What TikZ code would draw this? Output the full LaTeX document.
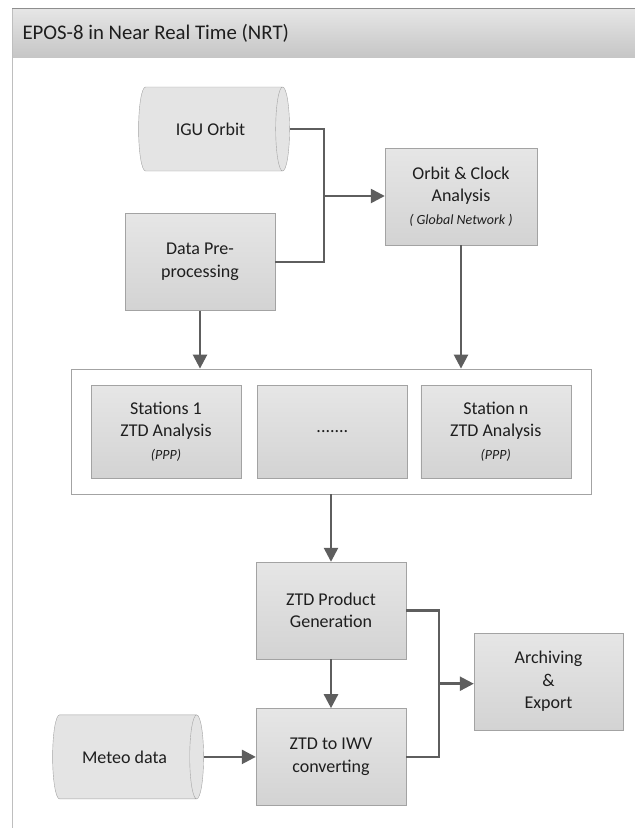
\documentclass[tikz,border=0pt]{standalone}
\usepackage{fontspec}
\setmainfont{Carlito}
\usepackage{tikz}
\usetikzlibrary{shapes.geometric, arrows.meta, positioning, fit, calc, backgrounds}
\definecolor{boxline}{HTML}{A3A3A3}
\definecolor{boxtop}{HTML}{E6E6E6}
\definecolor{boxbottom}{HTML}{D3D3D3}
\definecolor{storefill}{HTML}{E4E4E4}
\definecolor{linegrey}{HTML}{5E5E5E}
\definecolor{headtop}{HTML}{E6E6E6}
\definecolor{headbottom}{HTML}{C6C6C6}
\definecolor{textgrey}{HTML}{1E1E1E}
\newcommand{\notetext}[1]{{\fontsize{14}{16}\selectfont\itshape #1}}

\begin{document}
\begin{tikzpicture}[
  x=1pt, y=-1pt,
  node distance=14pt,
  box/.style={rectangle, draw=boxline, top color=boxtop, bottom color=boxbottom, minimum width=150pt, minimum height=97pt, align=center, inner sep=0pt, text=textgrey, font=\fontsize{18}{22.5}\selectfont},
  store/.style={cylinder, draw=boxline, fill=storefill, minimum width=84pt, minimum height=151pt, aspect=1.1, inner sep=0pt, text=textgrey, font=\fontsize{18}{22.5}\selectfont},
  line/.style={draw=linegrey, line width=2.5pt},
  arrow/.style={line, -{Triangle[length=14pt, width=14pt]}}
]
  \useasboundingbox (0,0) rectangle (635,828);

  % frame and title band
  \shade[top color=headtop, bottom color=headbottom] (12,8) rectangle (640,57);
  \draw[boxline!70, line width=1pt] (12,8) -- (12,830);
  \draw[linegrey!70, line width=1pt] (12,8) -- (640,8);
  \node[anchor=west, text=textgrey, font=\fontsize{20.8}{24}\selectfont] (title) at (19,33) {EPOS-8 in Near Real Time (NRT)};

  % inputs and global analysis
  \node[store] (igu) at (210.5,129) {IGU Orbit};
  \node[box] (pre) at (200,262) {Data Pre-\\processing};
  \node[box, minimum width=152pt] (orbit) at (461,196.5) {Orbit \& Clock\\Analysis\\\notetext{( Global Network )}};
  \coordinate (j1) at (324,196);

  % station analyses
  \node[box, minimum height=93pt] (st1) at (166,431.5) {Stations 1\\ZTD Analysis\\\notetext{(PPP)}};
  \node[box, minimum height=93pt, right=16pt of st1] (stdots) {.......};
  \node[box, minimum height=93pt, right=13pt of stdots] (stn) {Station n\\ZTD Analysis\\\notetext{(PPP)}};
  \begin{scope}[on background layer]
    \node[draw=boxline, fill=white, inner xsep=20pt, inner ysep=16pt, fit=(st1) (stn)] (group) {};
  \end{scope}

  % products
  \node[box] (ztd) at (331,610.5) {ZTD Product\\Generation};
  \node[box, below=49pt of ztd] (iwv) {ZTD to IWV\\converting};
  \node[store, left=52pt of iwv] (meteo) {Meteo data};
  \node[box, minimum width=149pt] (archive) at (548.5,681.5) {Archiving\\\&\\Export};
  \coordinate (j2) at ([xshift=33pt]$(ztd.east)!.5!(iwv.east)$);

  % connectors
  \draw[line] (igu.east) -| (j1);
  \draw[line] (pre.east) -| (j1);
  \draw[arrow] (j1) -- (j1 -| orbit.west);
  \draw[arrow] (pre.south) -- (pre |- group.north);
  \draw[arrow] (orbit.south) -- (orbit |- group.north);
  \draw[arrow] (group.south -| ztd) -- (ztd.north);
  \draw[arrow] (ztd) -- (iwv);
  \draw[arrow] (meteo.east) -- (iwv.west);
  \draw[line] (ztd.east) -| (j2);
  \draw[line] (iwv.east) -| (j2);
  \draw[arrow] (j2) -- (j2 -| archive.west);
\end{tikzpicture}
\end{document}
